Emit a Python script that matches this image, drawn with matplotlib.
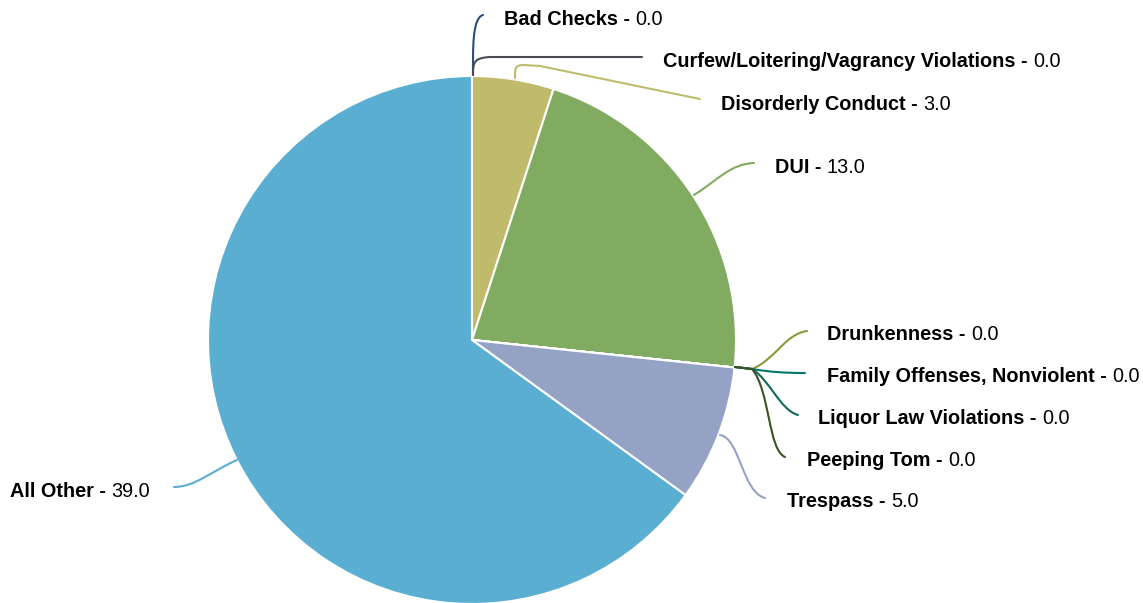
import matplotlib
matplotlib.use("Agg")
import matplotlib.pyplot as plt
from matplotlib.path import Path
from matplotlib.patches import PathPatch

# Offense counts, in drawing order (clockwise from the top)
categories = [
    "Bad Checks", "Curfew/Loitering/Vagrancy Violations", "Disorderly Conduct",
    "DUI", "Drunkenness", "Family Offenses, Nonviolent", "Liquor Law Violations",
    "Peeping Tom", "Trespass", "All Other",
]
values = [0.0, 0.0, 3.0, 13.0, 0.0, 0.0, 0.0, 0.0, 5.0, 39.0]
colors = [
    "#2b4f73", "#4a4c55", "#c0bb6b", "#80ab60", "#8f963a",
    "#03776c", "#0d6a5c", "#3b5222", "#94a3c5", "#5aaed1",
]

W, H = 1143, 603
plt.rcParams["font.family"] = ["Liberation Sans", "DejaVu Sans"]

fig = plt.figure(figsize=(W / 100, H / 100), dpi=100)
ax = fig.add_axes([0, 0, 1, 1])


def P(x, y):
    """Pixel-style coordinates (origin top-left) to data coordinates."""
    return (x, H - y)


cx, cy = P(472, 340)
ax.pie(values, colors=colors, startangle=90, counterclock=False,
       radius=264, center=(cx, cy),
       wedgeprops=dict(edgecolor="white", linewidth=1.5))
ax.set_xlim(0, W)
ax.set_ylim(0, H)
ax.set_aspect("equal")
ax.axis("off")

# Connector paths: list of (code, point) pieces per label
M, L, C = Path.MOVETO, Path.LINETO, Path.CURVE4
connectors = {
    "Bad Checks": [(M, (473, 75)), (C, (473, 50)), (C, (472, 18)), (C, (483, 15))],
    "Curfew/Loitering/Vagrancy Violations": [
        (M, (473, 75)), (C, (473, 62)), (C, (474, 58)), (C, (490, 57)), (L, (642, 57))],
    "Disorderly Conduct": [
        (M, (515, 78)), (C, (515, 68)), (C, (515, 65)), (C, (524, 65)),
        (L, (540, 66)), (L, (700, 99))],
    "DUI": [(M, (694, 195)), (C, (718, 180)), (C, (730, 164)), (C, (754, 163))],
    "Drunkenness": [(M, (735, 367)), (L, (752, 369)), (C, (775, 360)),
                    (C, (785, 334)), (C, (807, 331))],
    "Family Offenses, Nonviolent": [(M, (735, 367)), (L, (752, 369)),
                                    (C, (770, 372)), (C, (785, 373)), (C, (805, 373))],
    "Liquor Law Violations": [(M, (735, 367)), (L, (752, 369)), (C, (770, 380)),
                              (C, (780, 410)), (C, (798, 415))],
    "Peeping Tom": [(M, (735, 367)), (L, (752, 369)), (C, (770, 390)),
                    (C, (768, 450)), (C, (785, 457))],
    "Trespass": [(M, (720, 435)), (C, (740, 438)), (C, (742, 492)), (C, (765, 498))],
    "All Other": [(M, (237, 460)), (C, (210, 472)), (C, (195, 487)), (C, (174, 487))],
}

for name, color in zip(categories, colors):
    pieces = connectors[name]
    path = Path([P(*p) for _, p in pieces], [c for c, _ in pieces])
    ax.add_patch(PathPatch(path, facecolor="none", edgecolor=color, lw=1.5,
                           capstyle="round", zorder=3))

# Label anchors (left edge, baseline); "All Other" is right-aligned
label_pos = {
    "Bad Checks": (504, 25),
    "Curfew/Loitering/Vagrancy Violations": (663, 67),
    "Disorderly Conduct": (721, 110),
    "DUI": (775, 173),
    "Drunkenness": (827, 340),
    "Family Offenses, Nonviolent": (827, 382),
    "Liquor Law Violations": (818, 424),
    "Peeping Tom": (807, 466),
    "Trespass": (787, 507),
    "All Other": (150, 497),
}

FS = 14.3
fig.canvas.draw()
renderer = fig.canvas.get_renderer()
for name, val in zip(categories, values):
    x, y = label_pos[name]
    bold = f"{name} - "
    num = f"{val:.1f}"
    if name == "All Other":
        t2 = ax.text(*P(x, y), num, fontsize=FS, ha="right", va="baseline",
                     color="#000000")
        w = t2.get_window_extent(renderer).width
        ax.text(*P(x - w, y), bold, fontsize=FS, fontweight="bold", ha="right",
                va="baseline", color="#000000")
    else:
        t1 = ax.text(*P(x, y), bold, fontsize=FS, fontweight="bold", ha="left",
                     va="baseline", color="#000000")
        w = t1.get_window_extent(renderer).width
        ax.text(*P(x + w, y), num, fontsize=FS, ha="left", va="baseline",
                color="#000000")

fig.savefig("out.png", dpi=100, facecolor="white")
